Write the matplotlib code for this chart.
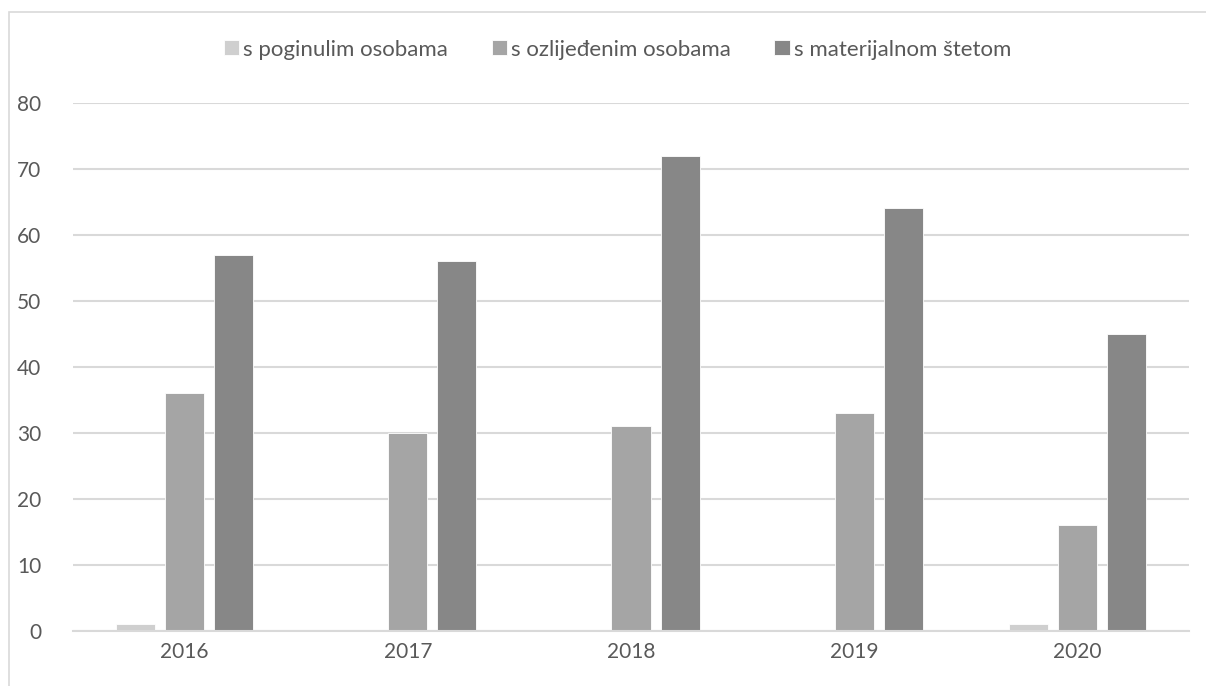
import matplotlib
matplotlib.use("Agg")
import matplotlib.pyplot as plt
import numpy as np
from matplotlib.patches import Rectangle

years = ["2016", "2017", "2018", "2019", "2020"]
series_names = ["s poginulim osobama", "s ozlijeđenim osobama", "s materijalnom štetom"]
poginuli = [1, 0, 0, 0, 1]
ozlijedeni = [36, 30, 31, 33, 16]
materijalna = [57, 56, 72, 64, 45]
colors = ["#cfcfcf", "#a5a5a5", "#878787"]
yticks = [0, 10, 20, 30, 40, 50, 60, 70, 80]

plt.rcParams['font.family'] = ['Lato', 'DejaVu Sans']
text_color = "#595959"

W, H = 1206, 686
fig = plt.figure(figsize=(W / 100, H / 100), dpi=100)
ax = fig.add_axes([73 / W, 1 - 631 / H, (1189 - 73) / W, (631 - 102.7) / H])

x = np.arange(len(years))
width = 0.175
offsets = [-0.22, 0.0, 0.22]
for vals, name, c, off in zip([poginuli, ozlijedeni, materijalna], series_names, colors, offsets):
    ax.bar(x + off, vals, width=width, color=c, label=name, edgecolor="white", linewidth=0.6, zorder=3)

ax.set_xlim(-0.5, len(years) - 0.5)
ax.set_ylim(0, 80)
ax.set_yticks(yticks)
ax.set_yticklabels([str(t) for t in yticks])
ax.set_xticks(x)
ax.set_xticklabels(years)
ax.grid(axis="y", color="#d9d9d9", linewidth=1.5, zorder=0)
for s in ["top", "right", "left"]:
    ax.spines[s].set_visible(False)
ax.spines["bottom"].set_color("#d9d9d9")
ax.spines["bottom"].set_linewidth(1.5)
ax.spines["bottom"].set_zorder(4)
ax.tick_params(axis="both", length=0, labelsize=15, colors=text_color)
ax.tick_params(axis="y", pad=23)
ax.tick_params(axis="x", pad=8)

fig.legend(loc="center", bbox_to_anchor=(617.5 / W, 1 - 49.5 / H), ncol=3, frameon=False,
           fontsize=16, labelcolor=text_color, handlelength=0.7, handleheight=0.68,
           handletextpad=0.18, columnspacing=1.95)

fig.patches.append(Rectangle((8.5 / W, -0.05), 1.1, 1 - 12.5 / H + 0.05, transform=fig.transFigure,
                             fill=False, edgecolor="#d9d9d9", linewidth=1.2))

fig.savefig("out.png", dpi=100, facecolor="white")
